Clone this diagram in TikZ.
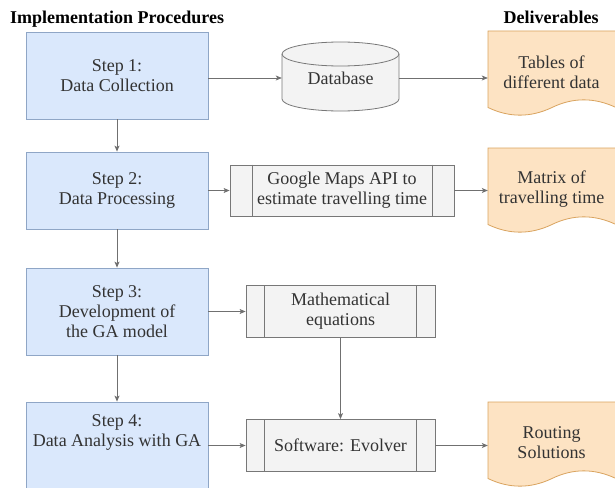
\documentclass[tikz,border=0pt]{standalone}
\usepackage{fontspec}
\newfontfamily\myserif{LiberationSerif}[Extension=.ttf, UprightFont=*-Regular, BoldFont=*-Bold]
\usetikzlibrary{arrows.meta}
\definecolor{stepfill}{HTML}{DAE8FC}
\definecolor{stepdraw}{HTML}{8FA6C6}
\definecolor{docfill}{HTML}{FDE3C3}
\definecolor{docdraw}{HTML}{D9A35E}
\definecolor{procfill}{HTML}{F3F3F3}
\definecolor{procdraw}{HTML}{777777}
\definecolor{arrowcol}{HTML}{707070}
\definecolor{txt}{HTML}{333333}
\tikzset{
  base/.style={inner sep=0pt, align=center, text=txt, font=\myserif\fontsize{18}{20}\selectfont},
  stepbox/.style={base, rectangle, fill=stepfill, draw=stepdraw, line width=0.8pt, minimum width=182pt},
  procbox/.style={base, rectangle, fill=procfill, draw=procdraw, line width=0.8pt},
  doctext/.style={base, minimum width=127pt, minimum height=20pt},
  docsty/.style={fill=docfill, draw=docdraw, line width=0.8pt},
  conn/.style={draw=arrowcol, line width=0.8pt, -{Stealth[length=6pt,width=5pt,inset=1.5pt]}},
  titletxt/.style={inner sep=0pt, text=black, font=\myserif\fontsize{18}{20}\selectfont\bfseries}
}
\newcommand\mydoc[1]{%
  \draw[docsty] (488,#1) -- (616,#1) -- (616,{#1+76.5})
    .. controls (594.3,{#1+66.3}) and (573.0,{#1+66.3}) .. (552,{#1+76.5})
    .. controls (530.6,{#1+86.7}) and (509.2,{#1+86.7}) .. (488,{#1+76.5}) -- cycle;}
\begin{document}
\begin{tikzpicture}[x=1pt,y=-1pt]
\useasboundingbox (0,0) rectangle (615,487);
% titles
\node[titletxt, anchor=base west] (t1) at (10,23.5) {Implementation Procedures};
\node[titletxt, anchor=base] (t2) at (551,23.5) {Deliverables};
% steps
\node[stepbox, minimum height=87pt] (s1) at (117,75.5) {Step 1:\\Data Collection};
\node[stepbox, minimum height=77pt] (s2) at (117,190.5) {Step 2:\\Data Processing};
\node[stepbox, minimum height=87pt] (s3) at (117,311.5) {Step 3:\\Development of\\the GA model};
\node[stepbox, minimum height=88pt, text depth=30pt] (s4) at (117,446) {Step 4:\\Data Analysis with GA};
% database cylinder
\draw[fill=procfill, draw=procdraw, line width=0.8pt]
  (282,54) -- (282,99) arc[start angle=180, end angle=360, x radius=58.5pt, y radius=12pt]
  -- (399,54) arc[start angle=0, end angle=180, x radius=58.5pt, y radius=12pt] -- cycle;
\draw[procdraw, line width=0.8pt] (282,54) arc[start angle=180, end angle=360, x radius=58.5pt, y radius=12pt];
\node[base, minimum width=117pt, minimum height=20pt] (db) at (340.5,78) {Database};
% process boxes
\node[procbox, minimum width=224pt, minimum height=51pt] (gm) at (342,190.5) {Google Maps API to\\estimate travelling time};
\node[procbox, minimum width=189pt, minimum height=52pt] (math) at (340.5,311.5) {Mathematical\\equations};
\node[procbox, minimum width=189pt, minimum height=52pt] (sw) at (340.5,445.5) {Software: Evolver};
\foreach \n/\d in {gm/22.4, math/18.9, sw/18.9}{
  \draw[procdraw, line width=0.8pt] ([xshift=\d pt]\n.north west) -- ([xshift=\d pt]\n.south west);
  \draw[procdraw, line width=0.8pt] ([xshift=-\d pt]\n.north east) -- ([xshift=-\d pt]\n.south east);
}
% deliverables
\mydoc{31}
\node[doctext] (tab) at (551.5,72) {Tables of\\different data};
\mydoc{148}
\node[doctext] (mat) at (551.5,189.5) {Matrix of\\travelling time};
\mydoc{402}
\node[doctext] (rout) at (551.5,442.5) {Routing\\Solutions};
% connectors
\draw[conn] (s1.south) -- (s2.north);
\draw[conn] (s2.south) -- (s3.north);
\draw[conn] (s3.south) -- (s4.north);
\draw[conn] (s1.east |- db.west) -- (db.west);
\draw[conn] (db.east) -- (db.east -| tab.west);
\draw[conn] (s2.east) -- (gm.west);
\draw[conn] (gm.east) -- (gm.east -| mat.west);
\draw[conn] (s3.east) -- (math.west);
\draw[conn] (math.south) -- (sw.north);
\draw[conn] (s4.east |- sw.west) -- (sw.west);
\draw[conn] (sw.east) -- (sw.east -| rout.west);
\end{tikzpicture}
\end{document}
